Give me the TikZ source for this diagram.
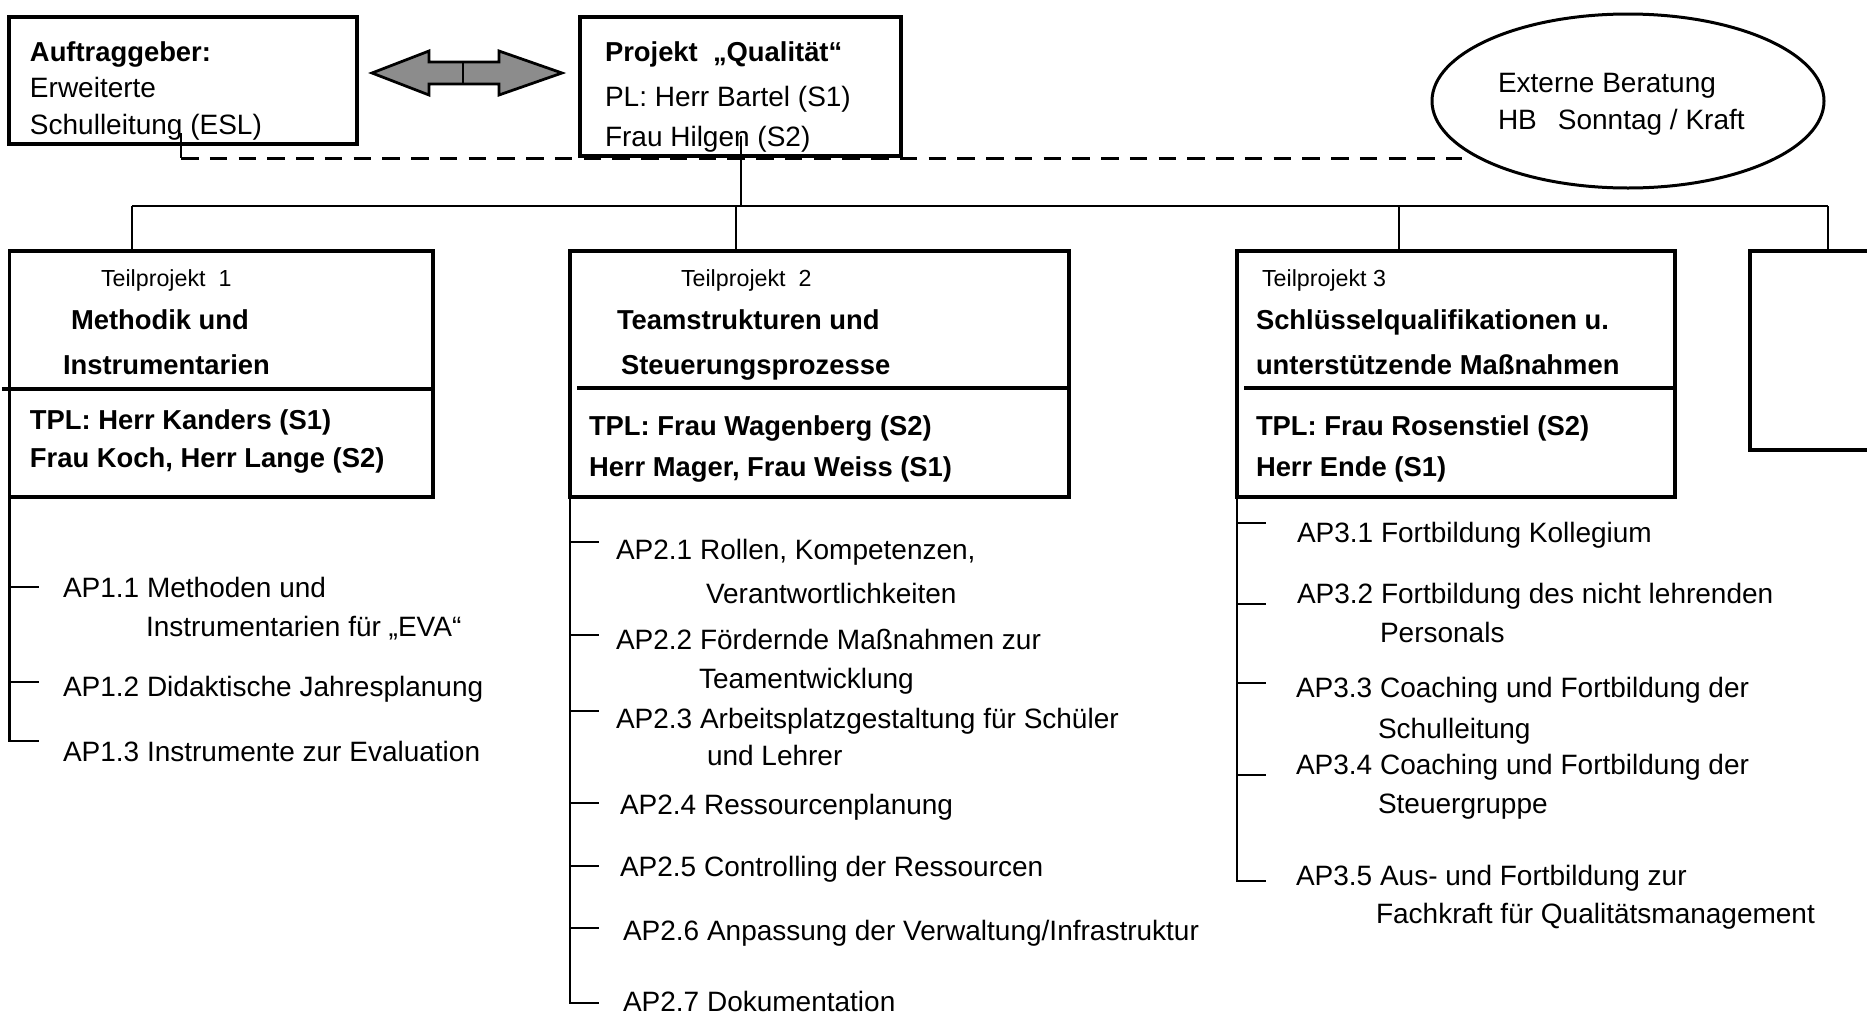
\documentclass[tikz,border=0pt]{standalone}
\usepackage{fontspec}
\setmainfont{Liberation Sans}
\usetikzlibrary{fit,shapes.geometric}
\definecolor{arrowgray}{RGB}{140,140,140}
\begin{document}
\begin{tikzpicture}[x=0.4pt,y=-0.4pt,
  every node/.style={inner sep=0pt,outer sep=0pt},
  frame/.style={draw,line width=1.3pt,inner sep=0pt,rectangle},
  txt/.style={anchor=mid west,yshift=-1.5pt,font=\fontsize{11.2}{13}\selectfont},
  btxt/.style={anchor=mid west,yshift=-1.5pt,font=\fontsize{10.95}{13}\selectfont\bfseries},
  small/.style={anchor=mid west,yshift=-1.3pt,font=\fontsize{9.3}{11}\selectfont},
  wire/.style={line width=1pt},
  boxline/.style={line width=1.3pt},
  dashwire/.style={line width=1.2pt,dash pattern=on 7pt off 4.5pt},
]
\useasboundingbox (0,0) rectangle (1867,1014);

% --- top row: client, project, external consulting
\node[frame,fit={(9,17) (357,144)}] (auf) {};
\node[btxt] (auf1) at (30,51) {Auftraggeber:};
\node[txt]  (auf2) at (30,87) {Erweiterte};
\node[txt]  (auf3) at (30,124) {Schulleitung (ESL)};

\node[frame,fit={(580,17) (901,156)}] (proj) {};
\node[btxt] (proj1) at (605,51) {Projekt\ \ „Qualität“};
\node[txt]  (proj2) at (605,96) {PL: Herr Bartel (S1)};
\node[txt]  (proj3) at (605,136) {Frau Hilgen (S2)};

\node[draw,ellipse,line width=1.2pt,minimum width={392*0.4pt},minimum height={174*0.4pt}] (ext) at (1628,101) {};
\node[txt] (ext1) at (1498,82) {Externe Beratung};
\node[txt] (ext2) at (1498,119) {HB\hspace{0.75em}Sonntag / Kraft};

% double arrow between client and project
\filldraw[fill=arrowgray,line width=1.1pt,line join=miter]
  (372,73) -- (429,51) -- (429,62) -- (499,62) -- (499,51) -- (562,73)
  -- (499,95) -- (499,84) -- (429,84) -- (429,95) -- cycle;
\draw[line width=1.1pt] (463,62) -- (463,84);

% dashed consulting link
\coordinate (auftick) at (181,133);
\coordinate (dashL) at (181,158);
\coordinate (dashR) at (1462,158);
\draw[wire] (auftick) -- (dashL);
\draw[dashwire] (dashL) -- (dashR);

% --- bus to the sub-projects
\coordinate (projstem) at (741,136);
\coordinate (busmid) at (741,206);
\coordinate (busL) at (132,206);
\coordinate (bus2) at (736,206);
\coordinate (bus3) at (1399,206);
\coordinate (busR) at (1828,206);
\draw[wire] (projstem) -- (busmid);
\draw[wire] (busL) -- (busR);

% --- sub-project boxes
\node[frame,fit={(9.5,251) (433,497)}] (tp1) {};
\node[frame,fit={(570,251) (1069,497)}] (tp2) {};
\node[frame,fit={(1237,251) (1675,497)}] (tp3) {};
\node[frame,fit={(1750,251) (1900,450)}] (tp4) {};

\draw[wire] (busL) -- (busL |- tp1.north);
\draw[wire] (bus2) -- (bus2 |- tp2.north);
\draw[wire] (bus3) -- (bus3 |- tp3.north);
\draw[wire] (busR) -- (busR |- tp4.north);

% dividers inside the boxes
\coordinate (d1) at (2,389);
\coordinate (d2) at (577,388);
\coordinate (d3) at (1244,388);
\draw[boxline] (d1) -- (d1 -| tp1.east);
\draw[boxline] (d2) -- (d2 -| tp2.east);
\draw[boxline] (d3) -- (d3 -| tp3.east);

% box texts
\node[small] (tp1a) at (101,277) {Teilprojekt\ \ 1};
\node[btxt]  (tp1b) at (71,319) {Methodik und};
\node[btxt]  (tp1c) at (63,364) {Instrumentarien};
\node[btxt]  (tp1d) at (30,419) {TPL: Herr Kanders (S1)};
\node[btxt]  (tp1e) at (30,457) {Frau Koch, Herr Lange (S2)};

\node[small] (tp2a) at (681,277) {Teilprojekt\ \ 2};
\node[btxt]  (tp2b) at (617,319) {Teamstrukturen und};
\node[btxt]  (tp2c) at (621,364) {Steuerungsprozesse};
\node[btxt]  (tp2d) at (589,425) {TPL: Frau Wagenberg (S2)};
\node[btxt]  (tp2e) at (589,466) {Herr Mager, Frau Weiss (S1)};

\node[small] (tp3a) at (1262,277) {Teilprojekt 3};
\node[btxt]  (tp3b) at (1256,319) {Schlüsselqualifikationen u.};
\node[btxt]  (tp3c) at (1256,364) {unterstützende Maßnahmen};
\node[btxt]  (tp3d) at (1256,425) {TPL: Frau Rosenstiel (S2)};
\node[btxt]  (tp3e) at (1256,466) {Herr Ende (S1)};

% --- work packages of sub-project 1
\coordinate (t11) at (9.5,587);
\coordinate (t12) at (9.5,682);
\coordinate (t13) at (9.5,741);
\draw[wire,line join=miter] (tp1.south west) -- (t13) -- ++(29.5,0);
\draw[wire] (t11) -- ++(29.5,0);
\draw[wire] (t12) -- ++(29.5,0);
\node[txt] (ap11) at (63,587) {AP1.1 Methoden und};
\node[txt] (ap11b) at (146,626) {Instrumentarien für „EVA“};
\node[txt] (ap12) at (63,686) {AP1.2 Didaktische Jahresplanung};
\node[txt] (ap13) at (63,751) {AP1.3 Instrumente zur Evaluation};

% --- work packages of sub-project 2
\coordinate (t21) at (570,542);
\coordinate (t22) at (570,635);
\coordinate (t23) at (570,711);
\coordinate (t24) at (570,803);
\coordinate (t25) at (570,866);
\coordinate (t26) at (570,928);
\coordinate (t27) at (570,1003);
\draw[wire,line join=miter] (tp2.south west) -- (t27) -- ++(29,0);
\foreach \t in {t21,t22,t23,t24,t25,t26} \draw[wire] (\t) -- ++(29,0);
\node[txt] (ap21) at (616,549) {AP2.1 Rollen, Kompetenzen,};
\node[txt] (ap21b) at (706,593) {Verantwortlichkeiten};
\node[txt] (ap22) at (616,639) {AP2.2 Fördernde Maßnahmen zur};
\node[txt] (ap22b) at (699,678) {Teamentwicklung};
\node[txt] (ap23) at (616,718) {AP2.3 Arbeitsplatzgestaltung für Schüler};
\node[txt] (ap23b) at (707,755) {und Lehrer};
\node[txt] (ap24) at (620,804) {AP2.4 Ressourcenplanung};
\node[txt] (ap25) at (620,866) {AP2.5 Controlling der Ressourcen};
\node[txt] (ap26) at (623,930) {AP2.6 Anpassung der Verwaltung/Infrastruktur};
\node[txt] (ap27) at (623,1001) {AP2.7 Dokumentation};

% --- work packages of sub-project 3
\coordinate (t31) at (1237,523);
\coordinate (t32) at (1237,604);
\coordinate (t33) at (1237,683);
\coordinate (t34) at (1237,775);
\coordinate (t35) at (1237,881);
\draw[wire,line join=miter] (tp3.south west) -- (t35) -- ++(29,0);
\foreach \t in {t31,t32,t33,t34} \draw[wire] (\t) -- ++(29,0);
\node[txt] (ap31) at (1297,532) {AP3.1 Fortbildung Kollegium};
\node[txt] (ap32) at (1297,593) {AP3.2 Fortbildung des nicht lehrenden};
\node[txt] (ap32b) at (1380,632) {Personals};
\node[txt] (ap33) at (1296,687) {AP3.3 Coaching und Fortbildung der};
\node[txt] (ap33b) at (1378,728) {Schulleitung};
\node[txt] (ap34) at (1296,764) {AP3.4 Coaching und Fortbildung der};
\node[txt] (ap34b) at (1378,803) {Steuergruppe};
\node[txt] (ap35) at (1296,875) {AP3.5 Aus- und Fortbildung zur};
\node[txt] (ap35b) at (1376,913) {Fachkraft für Qualitätsmanagement};
\end{tikzpicture}
\end{document}
